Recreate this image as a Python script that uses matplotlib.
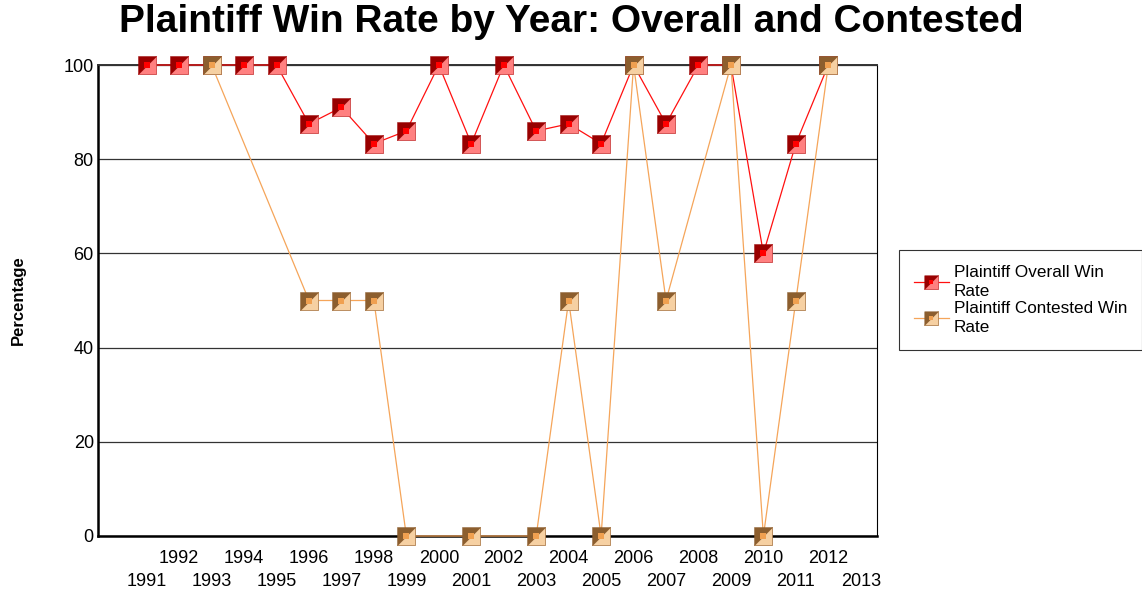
import matplotlib.pyplot as plt
from matplotlib.path import Path
from matplotlib.legend_handler import HandlerTuple

plt.rcParams['font.family'] = ['Liberation Sans', 'DejaVu Sans']

# overall win rate, every year 1991-2012
overall_years = list(range(1991, 2013))
overall_rate = [100, 100, 100, 100, 100, 87.5, 91, 83.3, 86, 100, 83.3,
                100, 86, 87.5, 83.3, 100, 87.5, 100, 100, 60, 83.3, 100]

# contested win rate, only years that have contested cases
contested_years = [1993, 1996, 1997, 1998, 1999, 2001, 2003, 2004, 2005,
                   2006, 2007, 2009, 2010, 2011, 2012]
contested_rate = [100, 50, 50, 50, 0, 0, 0, 50, 0, 100, 50, 100, 0, 50, 100]

tick_years = list(range(1991, 2014))

# diagonal split square marker: dark upper-left, light lower-right
upper_left = Path([(-1, 1), (1, 1), (-1, -1), (-1, 1)],
                  [Path.MOVETO, Path.LINETO, Path.LINETO, Path.CLOSEPOLY])
lower_right = Path([(1, 1), (1, -1), (-1, -1), (1, 1)],
                   [Path.MOVETO, Path.LINETO, Path.LINETO, Path.CLOSEPOLY])

fig = plt.figure(figsize=(11.42, 5.92), dpi=100)
ax = fig.add_axes([98 / 1142, 1 - 536 / 592, (877 - 98) / 1142, (536 - 65) / 592])


def draw_series(x, y, line_c, dark, light, center, edge, z, ms=13):
    ln, = ax.plot(x, y, color=line_c, lw=0.9, zorder=z, clip_on=False)
    lo, = ax.plot(x, y, ls='none', marker=lower_right, ms=ms, mfc=light,
                  mec=edge, mew=0.6, zorder=z + 0.1, clip_on=False)
    hi, = ax.plot(x, y, ls='none', marker=upper_left, ms=ms, mfc=dark,
                  mec=dark, mew=0.3, zorder=z + 0.2, clip_on=False)
    ce, = ax.plot(x, y, ls='none', marker='s', ms=3.8, mfc=center,
                  mec=center, mew=0, zorder=z + 0.3, clip_on=False)
    return (ln, lo, hi, ce)


h1 = draw_series(overall_years, overall_rate, '#ff1010', '#990000',
                 '#ff8080', '#ff0000', '#cc4444', 3)
h2 = draw_series(contested_years, contested_rate, '#f5a55a', '#8c5e2e',
                 '#f6d0a2', '#f0a050', '#b08050', 4)

ax.set_xlim(1989.5, 2013.5)
ax.set_ylim(0, 100)
ax.set_yticks([0, 20, 40, 60, 80, 100])
ax.tick_params(axis='y', length=0, pad=3, labelsize=13)

odd = [y for y in tick_years if y % 2 == 1]
even = [y for y in tick_years if y % 2 == 0]
ax.set_xticks(odd, [str(y) for y in odd])
ax.set_xticks(even, [str(y) for y in even], minor=True)
ax.tick_params(axis='x', which='major', length=0, pad=26.5, labelsize=13)
ax.tick_params(axis='x', which='minor', length=0, pad=10, labelsize=13)

ax.grid(axis='y', color='#333333', lw=0.9)
ax.set_axisbelow(True)
ax.spines['left'].set_linewidth(1.8)
ax.spines['bottom'].set_linewidth(1.8)
ax.spines['top'].set_linewidth(1.4)
ax.spines['top'].set_color('#333333')
ax.spines['right'].set_linewidth(0.8)

fig.text(0.5, 1 - 22 / 592, 'Plaintiff Win Rate by Year: Overall and Contested',
         ha='center', va='center', fontsize=28, fontweight='bold')
fig.text(18 / 1142, 1 - 300 / 592, 'Percentage', rotation=90, ha='center',
         va='center', fontsize=12, fontweight='bold')

leg = fig.legend([h1, h2],
                 ['Plaintiff Overall Win\nRate', 'Plaintiff Contested Win\nRate'],
                 handler_map={tuple: HandlerTuple(ndivide=1, pad=0)},
                 loc='center left', bbox_to_anchor=(899 / 1142, 1 - 300 / 592),
                 fancybox=False, frameon=True, edgecolor='black', fontsize=12.3,
                 handlelength=2.0, handletextpad=0.3, labelspacing=0.15,
                 borderpad=0.9, borderaxespad=0, markerscale=0.75)
leg.get_frame().set_linewidth(0.8)
for t in leg.get_texts():
    t.set_linespacing(1.3)

fig.savefig('out.png', dpi=100)
